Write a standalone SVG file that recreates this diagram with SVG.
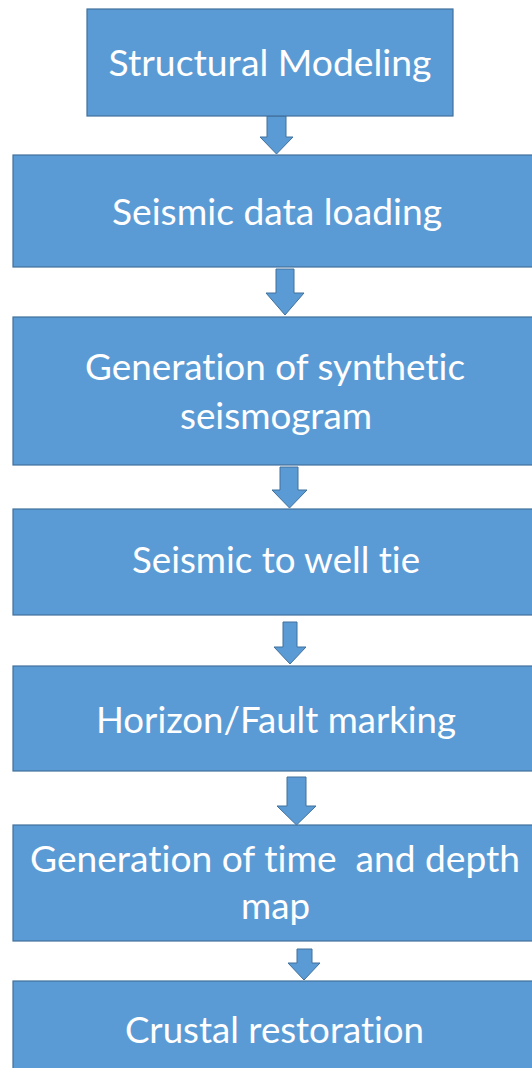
<svg xmlns="http://www.w3.org/2000/svg" width="532" height="1068" viewBox="0 0 532 1068">
<style>
.box{fill:#5B9BD5;stroke:#41719C;stroke-width:1.2}
.arr{fill:#5B9BD5;stroke:#41719C;stroke-width:1}
.lbl{font-family:Lato,"Open Sans","Liberation Sans",sans-serif;font-size:36px;fill:#FFFFFF;text-anchor:middle;white-space:pre;font-variant-ligatures:none;font-feature-settings:"liga" 0,"clig" 0,"dlig" 0}
</style>
<rect width="532" height="1068" fill="#FFFFFF"/>
<g id="connectors">
<polygon class="arr" points="267,116 286,116 286,137 293,137 276.5,154 260,137 267,137"/>
<polygon class="arr" points="276,269 294,269 294,293 304,293 285,315 266,293 276,293"/>
<polygon class="arr" points="280,467 298,467 298,490 307,490 289.5,508 272,490 280,490"/>
<polygon class="arr" points="283,622 297,622 297,647 306,647 290,664 274,647 283,647"/>
<polygon class="arr" points="287,777 306,777 306,806 316,806 296.5,825 277,806 287,806"/>
<polygon class="arr" points="297,949 312,949 312,963 320,963 304,980 288,963 297,963"/>
</g>
<g id="n1"><rect class="box" x="87" y="9" width="366" height="107"/><text class="lbl" x="270" y="76" textLength="323" lengthAdjust="spacingAndGlyphs">Structural Modeling</text></g>
<g id="n2"><rect class="box" x="13" y="155" width="530" height="112"/><text class="lbl" x="277" y="225" textLength="330" lengthAdjust="spacingAndGlyphs">Seismic data loading</text></g>
<g id="n3"><rect class="box" x="13" y="317" width="530" height="148"/><text class="lbl" x="275" y="380" textLength="380" lengthAdjust="spacingAndGlyphs">Generation of synthetic</text><text class="lbl" x="276" y="429" textLength="192" lengthAdjust="spacingAndGlyphs">seismogram</text></g>
<g id="n4"><rect class="box" x="13" y="509" width="530" height="106"/><text class="lbl" x="276" y="573" textLength="288" lengthAdjust="spacingAndGlyphs">Seismic to well tie</text></g>
<g id="n5"><rect class="box" x="13" y="666" width="530" height="105"/><text class="lbl" x="276" y="733" textLength="360" lengthAdjust="spacingAndGlyphs">Horizon/Fault marking</text></g>
<g id="n6"><rect class="box" x="13" y="825" width="530" height="116"/><text class="lbl" x="275" y="872" textLength="490" lengthAdjust="spacingAndGlyphs" xml:space="preserve">Generation of time  and depth</text><text class="lbl" x="275.5" y="919" textLength="69" lengthAdjust="spacingAndGlyphs">map</text></g>
<g id="n7"><rect class="box" x="13" y="981" width="530" height="100"/><text class="lbl" x="274.5" y="1043" textLength="299" lengthAdjust="spacingAndGlyphs">Crustal restoration</text></g>
</svg>
